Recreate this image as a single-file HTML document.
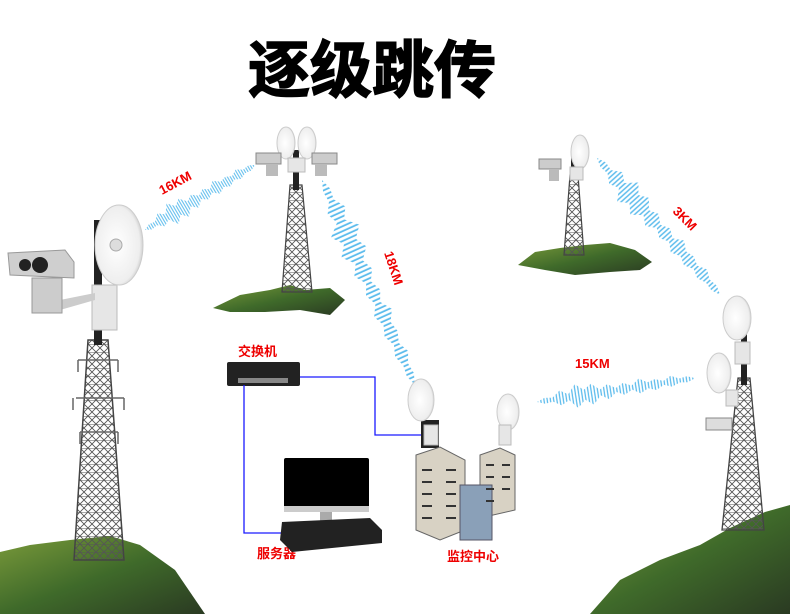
<!DOCTYPE html>
<html><head><meta charset="utf-8"><style>
html,body{margin:0;padding:0;background:#fff;}
svg{display:block}
text{font-family:"Liberation Sans","Noto Sans CJK SC",sans-serif;}
</style></head><body>
<svg width="790" height="614" viewBox="0 0 790 614" xmlns="http://www.w3.org/2000/svg">
<defs>
<pattern id="lat" width="8" height="8" patternUnits="userSpaceOnUse">
<path d="M0 0L8 8M8 0L0 8M0 0H8" stroke="#555" stroke-width="0.9" fill="none"/>
</pattern>
<pattern id="vl" width="2" height="4" patternUnits="userSpaceOnUse">
<path d="M0.5 0V4" stroke="#5bbbec" stroke-width="0.8"/>
</pattern>
<linearGradient id="mt" x1="0" y1="0" x2="1" y2="1">
<stop offset="0" stop-color="#7a9a3a"/><stop offset="0.5" stop-color="#3f6a2a"/><stop offset="1" stop-color="#2a3a22"/>
</linearGradient>
<radialGradient id="dish" cx="0.45" cy="0.5" r="0.6">
<stop offset="0" stop-color="#fff"/><stop offset="0.8" stop-color="#eee"/><stop offset="1" stop-color="#bbb"/>
</radialGradient>
<path id="env" d="M0 0 L5 -3 L10 -2 L15 -8 L20 -3 L25 -12 L30 -5 L35 -10 L40 -3 L45 -7 L50 -2 L55 -6 L60 -2 L65 -8 L70 -3 L75 -5 L80 -2 L85 -6 L90 -2 L95 -3 L100 0 L95 3 L90 2 L85 5 L80 2 L75 6 L70 3 L65 7 L60 2 L55 6 L50 2 L45 8 L40 3 L35 11 L30 5 L25 12 L20 3 L15 7 L10 2 L5 3 Z"/>
</defs>

<text x="372" y="92" font-size="62" font-weight="bold" text-anchor="middle" fill="#000" stroke="#000" stroke-width="1.5">逐级跳传</text>

<!-- left mountain -->
<path d="M0 552 L30 545 L70 540 L110 536 L140 545 L175 570 L205 614 L0 614Z" fill="url(#mt)"/>
<!-- left tower -->
<polygon points="88,340 108,340 124,560 74,560" fill="url(#lat)" stroke="#444" stroke-width="1.5"/>
<g stroke="#666" stroke-width="1.5" fill="none">
<path d="M78 360H118M76 398H124M80 432H118"/>
<path d="M78 360v12M118 360v12M73 398v12M124 398v12M80 432v12M118 432v12"/>
</g>
<rect x="94" y="220" width="8" height="125" fill="#222"/>
<rect x="92" y="285" width="25" height="45" fill="#e6e6e6" stroke="#bbb"/>
<path d="M60 300 L95 293 L95 300 L60 310Z" fill="#ccc"/>
<ellipse cx="119" cy="245" rx="24" ry="40" fill="url(#dish)" stroke="#ccc"/>
<circle cx="116" cy="245" r="6" fill="#ddd" stroke="#aaa"/>
<polygon points="8,253 65,250 74,262 74,278 10,275" fill="#cfcfcf" stroke="#999"/>
<circle cx="25" cy="265" r="6" fill="#222"/><circle cx="40" cy="265" r="8" fill="#222"/>
<rect x="32" y="278" width="30" height="35" fill="#ccc" stroke="#999"/>

<!-- top center mountain + tower -->
<path d="M213 308 L240 295 L270 290 L290 285 L305 290 L330 288 L345 300 L330 315 L300 310 L265 312 L230 312Z" fill="url(#mt)"/>
<polygon points="290,185 302,185 312,292 282,292" fill="url(#lat)" stroke="#444" stroke-width="1.2"/>
<rect x="293" y="150" width="6" height="40" fill="#222"/>
<ellipse cx="286" cy="143" rx="9" ry="16" fill="url(#dish)" stroke="#ccc"/>
<ellipse cx="307" cy="143" rx="9" ry="16" fill="url(#dish)" stroke="#ccc"/>
<rect x="288" y="158" width="17" height="14" fill="#e6e6e6" stroke="#bbb"/>
<rect x="256" y="153" width="25" height="11" fill="#ccc" stroke="#888"/>
<rect x="312" y="153" width="25" height="11" fill="#ccc" stroke="#888"/>
<rect x="266" y="164" width="12" height="12" fill="#bbb"/><rect x="315" y="164" width="12" height="12" fill="#bbb"/>

<!-- top right mountain + tower -->
<path d="M518 265 L535 252 L560 248 L585 245 L610 243 L635 250 L652 262 L640 270 L610 272 L575 275 L545 270Z" fill="url(#mt)"/>
<polygon points="570,175 578,175 584,255 564,255" fill="url(#lat)" stroke="#444" stroke-width="1.2"/>
<rect x="571" y="155" width="5" height="25" fill="#222"/>
<ellipse cx="580" cy="152" rx="9" ry="17" fill="url(#dish)" stroke="#ccc"/>
<rect x="570" y="167" width="13" height="13" fill="#e6e6e6" stroke="#bbb"/>
<rect x="539" y="159" width="22" height="10" fill="#ccc" stroke="#888"/>
<rect x="549" y="169" width="10" height="12" fill="#bbb"/>

<!-- right mountain + tower -->
<path d="M590 614 L620 580 L660 560 L700 545 L730 528 L765 512 L790 505 L790 614Z" fill="url(#mt)"/>
<polygon points="738,378 750,378 764,530 722,530" fill="url(#lat)" stroke="#444" stroke-width="1.3"/>
<rect x="741" y="330" width="6" height="55" fill="#222"/>
<ellipse cx="737" cy="318" rx="14" ry="22" fill="url(#dish)" stroke="#ccc"/>
<rect x="735" y="342" width="15" height="22" fill="#e6e6e6" stroke="#bbb"/>
<ellipse cx="719" cy="373" rx="12" ry="20" fill="url(#dish)" stroke="#ccc"/>
<rect x="726" y="390" width="12" height="16" fill="#e6e6e6" stroke="#bbb"/>
<rect x="706" y="418" width="26" height="12" fill="#ddd" stroke="#888"/>

<!-- waves -->
<g fill="url(#vl)">
<use href="#env" transform="translate(145,230) rotate(-30.6) scale(1.28,1)"/>
<use href="#env" transform="translate(322,180) rotate(65.6) scale(2.25,1.3)"/>
<use href="#env" transform="translate(597,158) rotate(48) scale(1.84,1.2)"/>
<use href="#env" transform="translate(537,402) rotate(-8.6) scale(1.6,1)"/>
</g>

<!-- labels -->
<g fill="#e00" font-weight="bold" font-size="13">
<text transform="translate(162,195) rotate(-28)">16KM</text>
<text transform="translate(384,253) rotate(72)">18KM</text>
<text transform="translate(672,212) rotate(45)">3KM</text>
<text x="575" y="368">15KM</text>
<text x="238" y="356">交换机</text>
<text x="257" y="558">服务器</text>
<text x="447" y="561">监控中心</text>
</g>

<!-- switch -->
<rect x="227" y="362" width="73" height="24" rx="2" fill="#222"/>
<rect x="238" y="378" width="50" height="5" fill="#888"/>
<!-- blue lines -->
<path d="M300 377 H375 V435 H425 M244 385 V533 H283" stroke="#1a1aff" stroke-width="1.3" fill="none"/>
<!-- monitor -->
<rect x="284" y="458" width="85" height="52" rx="2" fill="#000"/>
<rect x="284" y="506" width="85" height="6" fill="#ccc"/>
<rect x="320" y="512" width="12" height="10" fill="#aaa"/>
<polygon points="282,522 370,518 382,530 382,543 292,552 280,540" fill="#222"/>

<!-- buildings -->
<rect x="421" y="420" width="18" height="28" fill="#222"/>
<ellipse cx="421" cy="400" rx="13" ry="21" fill="url(#dish)" stroke="#ccc"/>
<rect x="424" y="425" width="14" height="20" fill="#e6e6e6" stroke="#bbb"/>
<ellipse cx="508" cy="412" rx="11" ry="18" fill="url(#dish)" stroke="#ccc"/>
<rect x="499" y="425" width="12" height="20" fill="#e6e6e6" stroke="#bbb"/>
<polygon points="416,455 440,447 465,460 465,530 440,540 416,530" fill="#d8d2c4" stroke="#666"/>
<polygon points="480,455 500,448 515,455 515,510 480,518" fill="#d8d2c4" stroke="#666"/>
<rect x="460" y="485" width="32" height="55" fill="#8aa0b8" stroke="#556"/>
<g stroke="#333" stroke-width="2">
<path d="M422 470h10M422 482h10M422 494h10M422 506h10M422 518h10M446 470h10M446 482h10M446 494h10M446 506h10M446 518h10M486 465h8M486 477h8M486 489h8M486 501h8M502 465h8M502 477h8M502 489h8"/>
</g>
</svg>
</body></html>
